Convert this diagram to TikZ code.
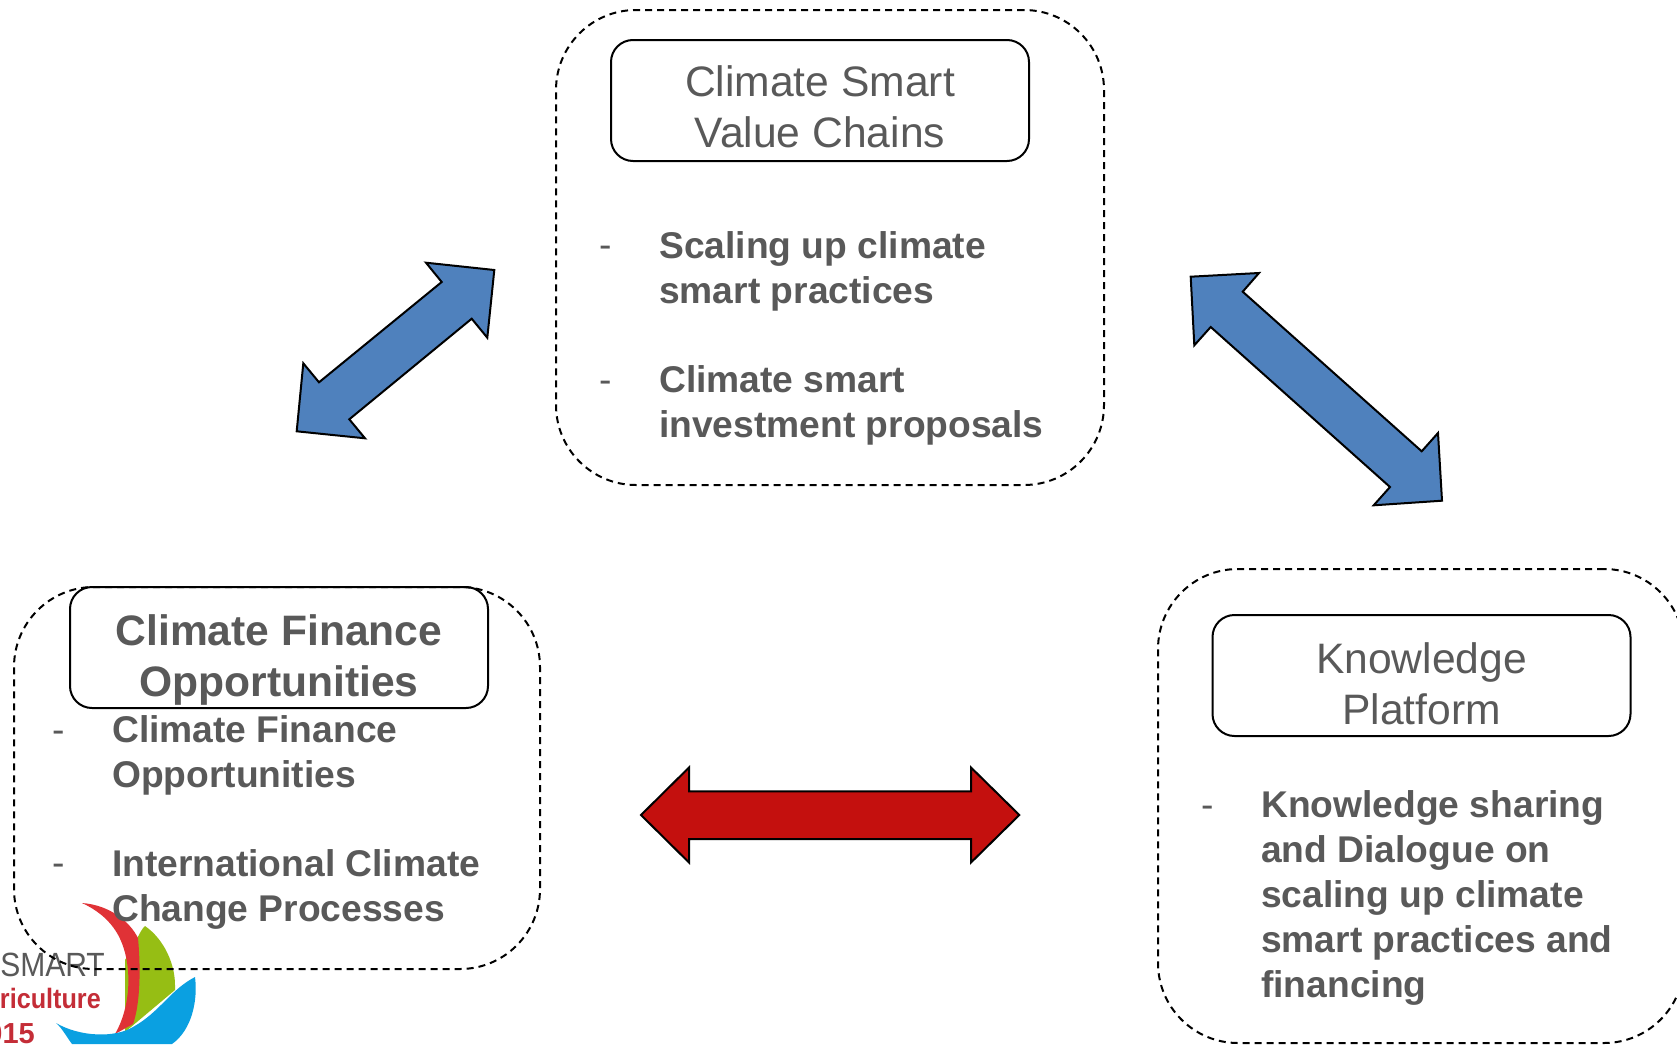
\documentclass[tikz,border=0pt]{standalone}
\usepackage{fontspec}
\usepackage{graphicx}
\setmainfont{Liberation Sans}
\definecolor{txt}{RGB}{89,89,89}
\definecolor{bluearrow}{RGB}{79,129,189}
\definecolor{redarrow}{RGB}{196,16,14}
\definecolor{logored}{RGB}{224,50,54}
\definecolor{logotext}{RGB}{196,45,55}
\definecolor{logogreen}{RGB}{150,190,20}
\definecolor{logoblue}{RGB}{10,160,225}
\tikzset{
  group/.style={draw=black,line width=2pt,dash pattern=on 7pt off 5pt,rounded corners=80pt,inner sep=0pt},
  titlebox/.style={draw=black,line width=2pt,rounded corners=22pt,minimum width=418pt,minimum height=121pt,inner sep=0pt},
  titletext/.style={inner sep=0pt,align=center,text=txt,font=\fontsize{42.6}{51.3}\selectfont},
  body/.style={anchor=base west,inner sep=0pt,align=left,text=txt,font=\fontsize{37.2}{45}\selectfont\bfseries},
  bullet/.style={anchor=base west,inner sep=0pt,text=txt,font=\fontsize{37.2}{45}\selectfont},
  blockarrow/.style={draw=black,line width=2pt,miter limit=10}
}
\begin{document}
\begin{tikzpicture}[x=1pt,y=-1pt]
\useasboundingbox (0,0) rectangle (1677,1044);
\fill[white] (0,0) rectangle (1677,1044);
% logo
\fill[logogreen] (145,926) .. controls (165,940) and (175,965) .. (175,985) -- (175,990) -- (125,1032) -- (125,960) .. controls (135,945) and (140,930) .. (145,926) -- cycle;
\fill[logored] (82,903) .. controls (110,905) and (130,922) .. (138,938) .. controls (141,970) and (140,1005) .. (133,1024) -- (115,1034) .. controls (132,1005) and (133,960) .. (117,933) .. controls (108,918) and (95,909) .. (82,903) -- cycle;
\fill[logoblue] (195,977) .. controls (198,1000) and (192,1030) .. (172,1044) -- (72,1044) .. controls (66,1036) and (62,1028) .. (56,1023) .. controls (80,1037) and (115,1038) .. (133,1027) .. controls (160,1012) and (170,990) .. (195,977) -- cycle;
\node[inner sep=0pt,anchor=base east,text=txt,font=\fontsize{30}{30}\selectfont] (logoa) at (105,976) {\scalebox{1}[1.12]{-SMART}};
\node[inner sep=0pt,anchor=base east,text=logotext,font=\fontsize{28}{28}\selectfont\bfseries] (logob) at (101,1008) {\scalebox{.9}[1]{griculture}};
\node[inner sep=0pt,anchor=base east,text=logotext,font=\fontsize{29}{29}\selectfont\bfseries] (logoc) at (35,1043) {2015};
% dashed groups
\node[group,minimum width=548pt,minimum height=475pt] (gtop) at (830,247.5) {};
\node[group,minimum width=526pt,minimum height=382pt] (gleft) at (277,778) {};
\node[group,minimum width=526pt,minimum height=474pt] (gright) at (1421,806) {};
% titles
\node[titlebox] (ttop) at (820,100.5) {};
\node[titlebox] (tleft) at (279,647.5) {};
\node[titlebox] (tright) at (1421.5,675.5) {};
\node[titletext] (ltop) at (820,106.9) {Climate Smart\\Value Chains};
\node[titletext,font=\fontsize{42.6}{51.3}\selectfont\bfseries] (lleft) at (279,660.3) {Climate Finance\\Opportunities};
\node[titletext] (lright) at (1421.5,684) {Knowledge\\Platform};
% body
\node[bullet] (b1) at (599,257) {-};
\node[body] (t1) at (659,303) {Scaling up climate\\smart practices};
\node[bullet] (b2) at (599,392) {-};
\node[body] (t2) at (659,437) {Climate smart\\investment proposals};
\node[bullet] (b3) at (52,742) {-};
\node[body] (t3) at (112,787) {Climate Finance\\Opportunities};
\node[bullet] (b4) at (52,875) {-};
\node[body] (t4) at (112,921) {International Climate\\Change Processes};
\node[bullet] (b5) at (1201,817) {-};
\node[body] (t5) at (1261,997) {Knowledge sharing\\and Dialogue on\\scaling up climate\\smart practices and\\financing};
% arrows
\draw[blockarrow,fill=bluearrow] (426,262.7) -- (494.3,270) -- (487.3,337.7) -- (471.7,318.7) -- (349.3,419.3) -- (365,438.3) -- (296.7,431.3) -- (303.3,363.3) -- (319,382.3) -- (441.7,282) -- cycle;
\draw[blockarrow,fill=bluearrow] (1190.7,276.7) -- (1259,273) -- (1242.7,291.7) -- (1421.7,451.3) -- (1438,433) -- (1442,500.7) -- (1373.7,505.3) -- (1390,487) -- (1210.7,327) -- (1194.3,345.3) -- cycle;
\draw[blockarrow,fill=redarrow] (641,815) -- (689,767.5) -- (689,791.3) -- (971,791.3) -- (971,767.5) -- (1019.3,815) -- (971,862.5) -- (971,839) -- (689,839) -- (689,862.5) -- cycle;
\end{tikzpicture}
\end{document}
